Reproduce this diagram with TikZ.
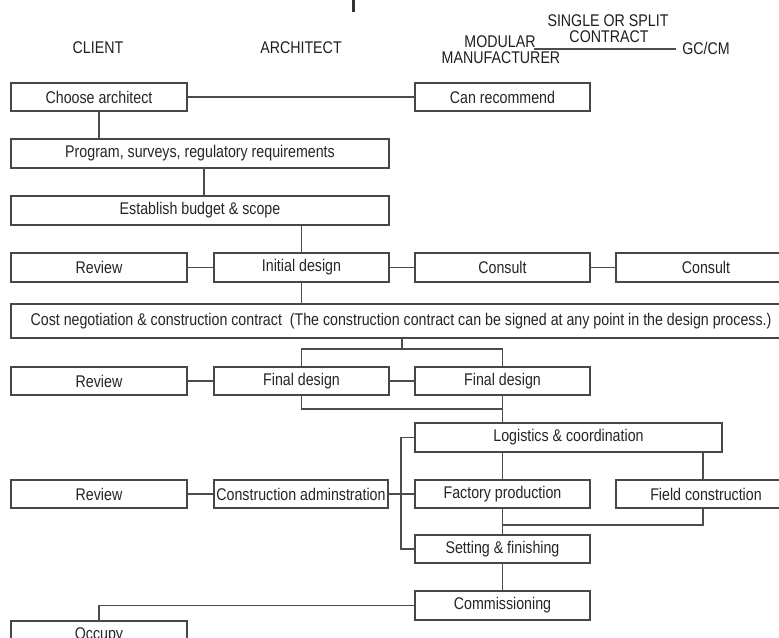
\documentclass[tikz,border=0pt]{standalone}
\usepackage{fontspec}
\setmainfont{Liberation Sans}[FakeStretch=0.84]
\begin{document}
\begin{tikzpicture}[x=0.75pt,y=-0.75pt,
  link/.style={draw=black!70, line width=0.8pt},
  box/.style={draw=black!72, line width=0.85pt, rectangle, inner sep=0pt, outer sep=0pt,
    text=black!85, font=\fontsize{12.7}{14}\selectfont},
  head/.style={text=black!88, inner sep=0pt, font=\fontsize{12.7}{14}\selectfont}]
% page frame
\useasboundingbox (0,0) rectangle (779,638);
\clip (0,0) rectangle (779,638);
\fill[white] (0,0) rectangle (779,638);

% box given by its left, right, top and bottom edges
\newcommand\flowbox[6]{\node[box, minimum width={(#3-#2)*0.75pt}, minimum height={(#5-#4)*0.75pt}] (#1) at ({(#2+#3)/2},{(#4+#5)/2}) {#6};}

% stroke at the top edge
\fill[black!80] (352,0) rectangle (355,12);

% column headings
\node[head] (hclient) at (98,48) {CLIENT};
\node[head] (harch) at (301,48) {ARCHITECT};
\node[head] (hmod) at (500,42) {MODULAR};
\node[head] (hmanu) at (501,58) {MANUFACTURER};
\node[head] (hsingle) at (608,21) {SINGLE OR SPLIT};
\node[head] (hcontract) at (609,37) {CONTRACT};
\node[head] (hgc) at (706,48) {GC/CM};
\coordinate (hl1) at (534,49);
\coordinate (hl2) at (676,49);
\draw[link] (hl1) -- (hl2);

% boxes
\flowbox{choose}{11}{187}{83}{111}{Choose architect}
\flowbox{canrec}{415}{590}{83}{111}{Can recommend}
\flowbox{program}{11}{389}{139}{168}{Program, surveys, regulatory requirements}
\flowbox{budget}{11}{389}{196}{225}{Establish budget \& scope}
\flowbox{reviewa}{11}{187}{253}{282}{Review}
\flowbox{initial}{214}{389}{253}{282}{Initial design}
\flowbox{consulta}{415}{590}{253}{282}{Consult}
\flowbox{consultb}{616}{796}{253}{282}{Consult}
\flowbox{cost}{11}{791}{304}{338}{Cost negotiation \& construction contract\ \ (The construction contract can be signed at any point in the design process.)}
\flowbox{reviewb}{11}{187}{367}{395}{Review}
\flowbox{finala}{214}{389}{367}{395}{Final design}
\flowbox{finalb}{415}{590}{367}{395}{Final design}
\flowbox{logistics}{415}{722}{423}{452}{Logistics \& coordination}
\flowbox{reviewc}{11}{187}{480}{508}{Review}
\flowbox{admin}{214}{388}{480}{508}{Construction adminstration}
\flowbox{factory}{415}{590}{480}{508}{Factory production}
\flowbox{field}{616}{796}{480}{508}{Field construction}
\flowbox{setting}{415}{590}{535}{563}{Setting \& finishing}
\flowbox{commis}{415}{590}{591}{620}{Commissioning}
\flowbox{occupy}{11}{187}{621}{650}{Occupy}

% guide coordinates for the connectors
\coordinate (xa) at (204,0);
\coordinate (xc) at (402,0);
\coordinate (xd) at (703,0);
\coordinate (xe) at (401,0);
\coordinate (ya) at (0,349);
\coordinate (yb) at (0,409);
\coordinate (yc) at (0,525);

% connectors
\draw[link] (choose) -- (canrec);
\draw[link] (choose.south) -- (choose.south |- program.north);
\draw[link] (program.south -| xa) -- (budget.north -| xa);
\draw[link] (initial.north) -- (initial.north |- budget.south);
\draw[link] (reviewa) -- (initial);
\draw[link] (initial) -- (consulta);
\draw[link] (consulta) -- (consultb);
\draw[link] (initial.south) -- (initial.south |- cost.north);
\draw[link] (cost.south -| xc) -- (xc |- ya);
\draw[link] (finala.north) -- (finala.north |- ya) -- (finalb.north |- ya) -- (finalb.north);
\draw[link] (reviewb) -- (finala);
\draw[link] (finala) -- (finalb);
\draw[link] (finala.south) -- (finala.south |- yb) -- (finalb.south |- yb);
\draw[link] (finalb.south) -- (logistics.north -| finalb.south);
\draw[link] (logistics.south -| factory.north) -- (factory.north);
\draw[link] (logistics.south -| xd) -- (field.north -| xd);
\draw[link] (logistics.west) -- (logistics.west -| xe) -- (setting.west -| xe) -- (setting.west);
\draw[link] (reviewc) -- (admin);
\draw[link] (admin) -- (factory);
\draw[link] (field.south -| xd) -- (xd |- yc) -- (factory.south |- yc);
\draw[link] (factory.south) -- (setting.north);
\draw[link] (setting.south) -- (commis.north);
\draw[link] (commis.west) -| (occupy.north);
\end{tikzpicture}
\end{document}
